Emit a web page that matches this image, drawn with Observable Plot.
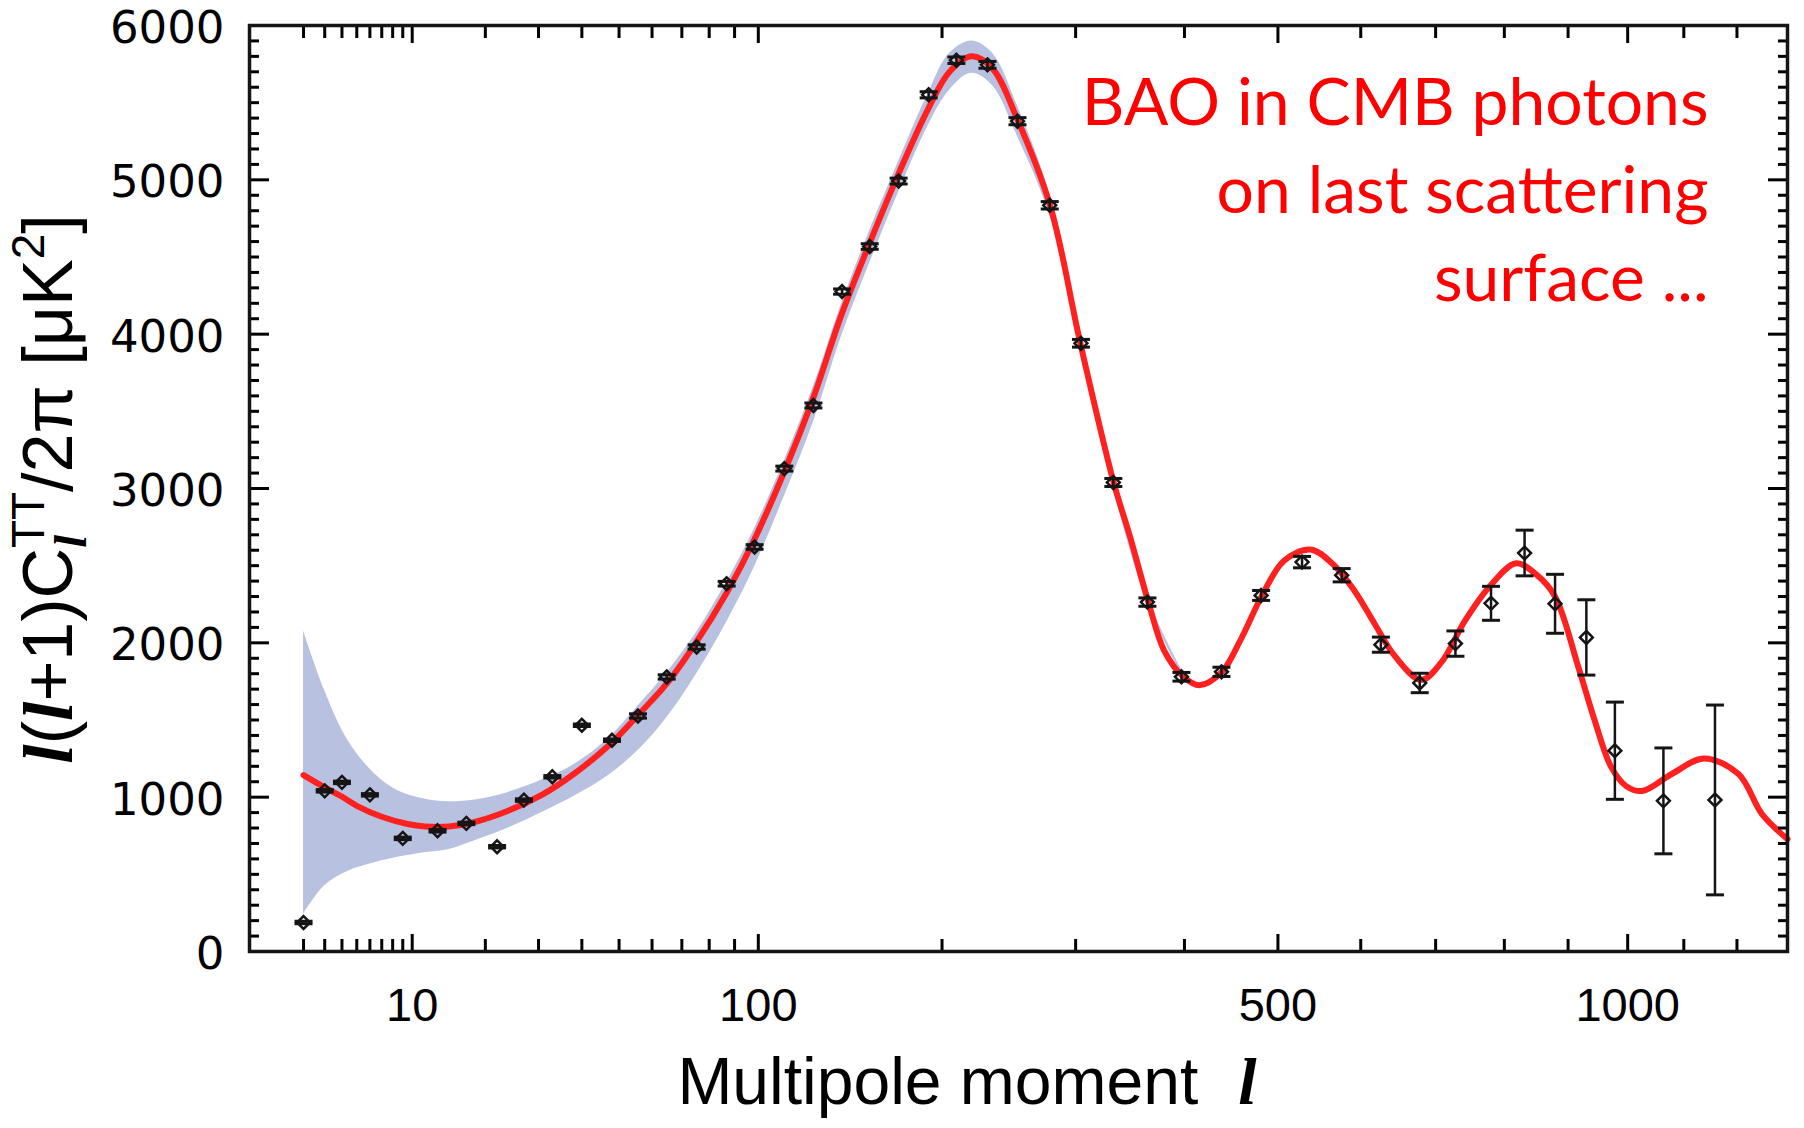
<!DOCTYPE html>
<html><head><meta charset="utf-8">
<script src="https://cdn.jsdelivr.net/npm/d3@7"></script>
<script src="https://cdn.jsdelivr.net/npm/@observablehq/plot@0.6"></script>
<style>body{margin:0;background:#fff}svg{display:block}</style>
</head><body><div id="chart"></div>
<script>
// ---- data: binned measurements ----
const pointL = [2,3,4,6,9,13,17,22,27,33,40,48,55.6,64.8,75.3,86.8,98.4,111.7,125.7,140.5,155.7,172.6,191.3,209.6,231.3,253.5,278.7,304.5,332.7,364,397,438,481,528,576,626,678,728,780,831,879,930,978,1063,1158];
const pointV = [188,1041,1096,1015,733,782,830,679,981,1132,1466,1369,1526,1779,1973,2383,2621,3129,3538,4276,4568,4992,5551,5775,5745,5380,4835,3941,3039,2264,1780,1812,2307,2523,2438,1988,1740,1995,2256,2582,2253,2035,1301,976,982];
const pointErr = [8,8,8,8,8,8,8,8,8,8,8,8,14,14,14,15,15,16,16,17,18,19,20,21,22,23,24,25,26,27,28,30,32,37,43,49,63,82,110,148,191,244,315,343,615];
// ---- best-fit model curve ----
const modelL = [2,3,4,5,7,9.5,11.5,14.5,18,24,31,38,47,56,65,75,87,98,112,126,140,156,173,191,205,220,235,253,279,304,333,348,365,380,399,415,438,458,482,507,538,565,592,618,644,680,708,742,777,818,850,879,917,944,972,998,1025,1078,1137,1203,1249,1300];
const modelV = [1143,1063,1003,944,873,826,810,810,836,912,1020,1150,1333,1540,1740,2000,2330,2660,3120,3600,4120,4600,5050,5460,5700,5800,5720,5400,4835,3941,3039,2684,2262,1950,1780,1725,1808,2014,2306,2532,2605,2511,2338,2122,1917,1760,1873,2145,2360,2515,2440,2300,1840,1495,1193,1070,1040,1150,1250,1150,890,728];
// ---- cosmic variance band ----
const bandL = [2,3,4.4,6.4,8.5,11.4,14.4,18.3,24,30.7,38.3,47,56,65,75,87,98,112,126,140,156,173,191,205,220,235,253,279,304,333,365,400];
const bandHi = [2077,1690,1366,1150,1042,988,970,981,1031,1111,1215,1380,1600,1810,2060,2400,2730,3190,3670,4190,4680,5130,5560,5820,5900,5820,5490,4900,3990,3070,2280,1790];
const bandLo = [242,426,520,575,610,640,660,718,800,901,1009,1140,1310,1520,1790,2140,2480,2960,3440,3980,4470,4930,5350,5580,5690,5610,5290,4760,3880,2990,2240,1760];
// ---- ticks and text ----
const xTickMajor = [10,100,500,1000];
const xTickMinor = [2,3,4,5,6,7,8,9,20,30,40,50,60,70,80,90,200,300,400,600,700,800,900,1100,1200];
const yTickMajor = [0,1000,2000,3000,4000,5000,6000];
const yTickMinor = d3.range(0,6001,100).filter(v => v % 1000 !== 0);
const annotationLines = ["BAO in CMB photons","on last scattering","surface ..."];

const points = pointL.map((l,i)=>({l, v: pointV[i], lo: pointV[i]-pointErr[i], hi: pointV[i]+pointErr[i]}));
const model = modelL.map((l,i)=>({l, v: modelV[i]}));
const band = bandL.map((l,i)=>({l, lo: bandLo[i], hi: bandHi[i]}));

const cap = {draw(ctx, size){ const w = Math.sqrt(size/Math.PI); ctx.moveTo(-w,0); ctx.lineTo(w,0); }};
const ink = "#151515";

const chart = Plot.plot({
  width: 1804, height: 1128,
  marginLeft: 249, marginRight: 17, marginTop: 25, marginBottom: 177,
  style: {background: "#fff", color: "#000"},
  x: {type: "pow", exponent: 0.4, domain: [0.45, 1300], label: null},
  y: {domain: [0, 6000], label: null},
  marks: [
    Plot.areaY(band, {x: "l", y1: "lo", y2: "hi", fill: "#b9c1e0", curve: "catmull-rom"}),
    Plot.line(model, {x: "l", y: "v", stroke: "#ff2020", strokeWidth: 6, curve: "catmull-rom"}),
    Plot.ruleX(points, {x: "l", y1: "lo", y2: "hi", stroke: ink, strokeWidth: 2.5}),
    Plot.dot(points, {x: "l", y: "lo", symbol: cap, r: 9, stroke: ink, strokeWidth: 3}),
    Plot.dot(points, {x: "l", y: "hi", symbol: cap, r: 9, stroke: ink, strokeWidth: 3}),
    Plot.dot(points, {x: "l", y: "v", symbol: "diamond2", r: 5.8, stroke: ink, strokeWidth: 2.5, fill: "none"}),
    // inward ticks
    Plot.axisX(xTickMinor, {anchor: "bottom", tickSize: -12, strokeWidth: 3, fill: "none", label: null}),
    Plot.axisX(xTickMajor, {anchor: "bottom", tickSize: -17, strokeWidth: 3, fill: "none", label: null}),
    Plot.axisX(xTickMinor, {anchor: "top", tickSize: -12, strokeWidth: 3, fill: "none", label: null}),
    Plot.axisX(xTickMajor, {anchor: "top", tickSize: -17, strokeWidth: 3, fill: "none", label: null}),
    Plot.axisY(yTickMinor, {anchor: "left", tickSize: -10, strokeWidth: 3, fill: "none", label: null}),
    Plot.axisY(yTickMajor, {anchor: "left", tickSize: -20, strokeWidth: 3, fill: "none", label: null}),
    Plot.axisY(yTickMinor, {anchor: "right", tickSize: -10, strokeWidth: 3, fill: "none", label: null}),
    Plot.axisY(yTickMajor, {anchor: "right", tickSize: -20, strokeWidth: 3, fill: "none", label: null}),
    // tick labels
    Plot.axisX(xTickMajor, {anchor: "bottom", tickSize: 0, tickPadding: 36, fontSize: 47, fontFamily: "Liberation Sans, Arial, sans-serif", tickFormat: d => String(d), label: null}),
    Plot.axisY(yTickMajor, {anchor: "left", tickSize: 0, tickPadding: 25, dy: 3, fontSize: 45, fontFamily: "DejaVu Sans, sans-serif", tickFormat: d => String(d), label: null}),
    Plot.frame({stroke: ink, strokeWidth: 3.5}),
    Plot.text([annotationLines.join("\n")], {frameAnchor: "top-right", textAnchor: "end", lineAnchor: "top", lineHeight: 1.333, dx: -79, dy: 37, fontSize: 66, fontFamily: "Lato, sans-serif", fill: "#ff0000"})
  ]
});
document.getElementById("chart").appendChild(chart);

// axis titles
const svg = d3.select(chart);
const ell = sel => sel.style("font-family", "Liberation Serif, serif").style("font-weight", "bold").style("font-style", "italic");
const xt = svg.append("text").attr("x", 967).attr("y", 1104).attr("text-anchor", "middle")
  .style("font-family", "Liberation Sans, Arial, sans-serif").style("font-size", "66px").attr("fill", "#000");
xt.append("tspan").text("Multipole moment");
xt.append("tspan").attr("dx", 40).call(ell).text("l");

const yt = svg.append("text").attr("transform", "translate(72,489) rotate(-90)").attr("text-anchor", "middle")
  .style("font-family", "Liberation Sans, Arial, sans-serif").style("font-size", "70px").attr("fill", "#000");
yt.append("tspan").call(ell).text("l");
yt.append("tspan").text("(");
yt.append("tspan").call(ell).text("l");
yt.append("tspan").text("+1)C");
yt.append("tspan").attr("dy", 14).style("font-size", "46px").call(ell).text("l");
yt.append("tspan").attr("dx", -13).attr("dy", -42).style("font-size", "46px").text("TT");
yt.append("tspan").attr("dy", 28).text("/2π [μK");
yt.append("tspan").attr("dy", -28).style("font-size", "46px").text("2");
yt.append("tspan").attr("dy", 28).text("]");
</script></body></html>
